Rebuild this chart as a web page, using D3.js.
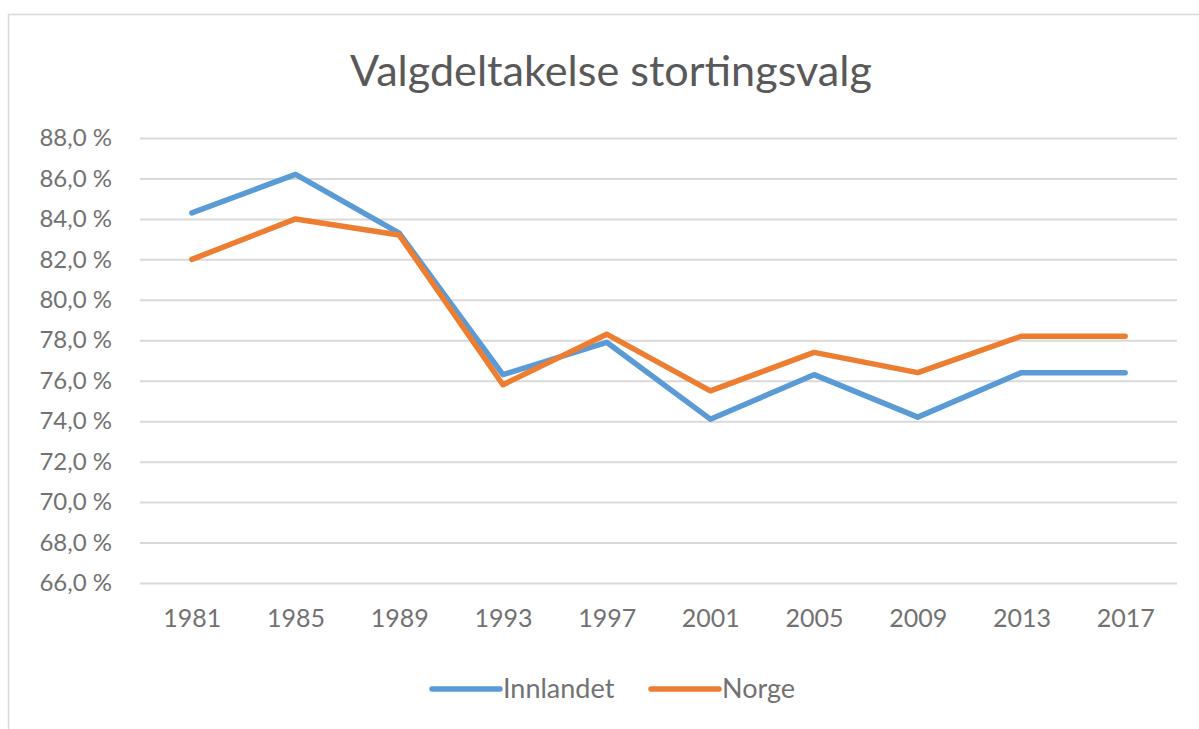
<!DOCTYPE html>
<html>
<head>
<meta charset="utf-8">
<script src="https://cdn.jsdelivr.net/npm/d3@7"></script>
<style>
  body { margin: 0; background: #fff; }
  svg { display: block; font-family: Lato, "Open Sans", sans-serif; }
</style>
</head>
<body>
<div id="chart"></div>
<script>
// data
const years = ["1981", "1985", "1989", "1993", "1997", "2001", "2005", "2009", "2013", "2017"];
const innlandet = [84.3, 86.2, 83.3, 76.3, 77.9, 74.1, 76.3, 74.2, 76.4, 76.4];
const norge = [82.0, 84.0, 83.2, 75.8, 78.3, 75.5, 77.4, 76.4, 78.2, 78.2];
const yTicks = [66, 68, 70, 72, 74, 76, 78, 80, 82, 84, 86, 88];
const seriesNames = ["Innlandet", "Norge"];
const colors = ["#5b9bd5", "#ed7d31"];

const width = 1199, height = 729;
const margin = {top: 138, right: 22, bottom: 146, left: 140};

const svg = d3.select("#chart").append("svg")
    .attr("width", width)
    .attr("height", height);

// chart frame
svg.append("rect")
    .attr("x", 8.5).attr("y", 14.5)
    .attr("width", width + 20).attr("height", height)
    .attr("fill", "none")
    .attr("stroke", "#d9d9d9")
    .attr("stroke-width", 1.5);

const x = d3.scalePoint()
    .domain(years)
    .range([margin.left, width - margin.right])
    .padding(0.5);

const y = d3.scaleLinear()
    .domain([66, 88])
    .range([height - margin.bottom, margin.top]);

const fmt = d => d3.format(".1f")(d).replace(".", ",") + " %";

// gridlines
svg.append("g")
    .attr("transform", `translate(${margin.left},0)`)
    .call(d3.axisLeft(y).tickValues(yTicks).tickSize(-(width - margin.left - margin.right)).tickFormat(""))
    .call(g => g.select(".domain").remove())
    .call(g => g.selectAll(".tick line").attr("stroke", "#d9d9d9").attr("stroke-width", 2));

// y labels
svg.append("g")
    .attr("transform", `translate(${margin.left - 28},0)`)
    .call(d3.axisLeft(y).tickValues(yTicks).tickSize(0).tickFormat(fmt))
    .call(g => g.select(".domain").remove())
    .call(g => g.selectAll("text")
        .attr("x", 0)
        .attr("fill", "#727272")
        .style("font-size", "24px")
        .style("font-family", "Lato, sans-serif"));

// x labels
svg.append("g")
    .attr("transform", `translate(0,${height - margin.bottom})`)
    .call(d3.axisBottom(x).tickSize(0))
    .call(g => g.select(".domain").remove())
    .call(g => g.selectAll("text")
        .attr("y", 26)
        .attr("fill", "#727272")
        .style("font-size", "25px")
        .style("font-family", "Lato, sans-serif"));

const line = d3.line()
    .x((d, i) => x(years[i]))
    .y(d => y(d));

[innlandet, norge].forEach((vals, k) => {
  svg.append("path")
      .datum(vals)
      .attr("fill", "none")
      .attr("stroke", colors[k])
      .attr("stroke-width", 5.5)
      .attr("stroke-linejoin", "round")
      .attr("stroke-linecap", "round")
      .attr("d", line);
});

// title
const title = svg.append("text")
    .attr("x", 611)
    .attr("y", 86)
    .attr("text-anchor", "middle")
    .attr("fill", "#595959")
    .style("font-size", "36px")
    .text("Valgdeltakelse stortingsvalg");
const tw = title.node().getComputedTextLength();
title.style("font-size", (36 * 522 / tw) + "px");

// legend
const legendX = [432, 651];
const leg = svg.append("g");
seriesNames.forEach((name, k) => {
  leg.append("line")
      .attr("x1", legendX[k]).attr("x2", legendX[k] + 68)
      .attr("y1", 689).attr("y2", 689)
      .attr("stroke", colors[k])
      .attr("stroke-width", 5.5)
      .attr("stroke-linecap", "round");
  leg.append("text")
      .attr("x", legendX[k] + 71)
      .attr("y", 698)
      .attr("fill", "#727272")
      .style("font-size", "27px")
      .text(name);
});
</script>
</body>
</html>
